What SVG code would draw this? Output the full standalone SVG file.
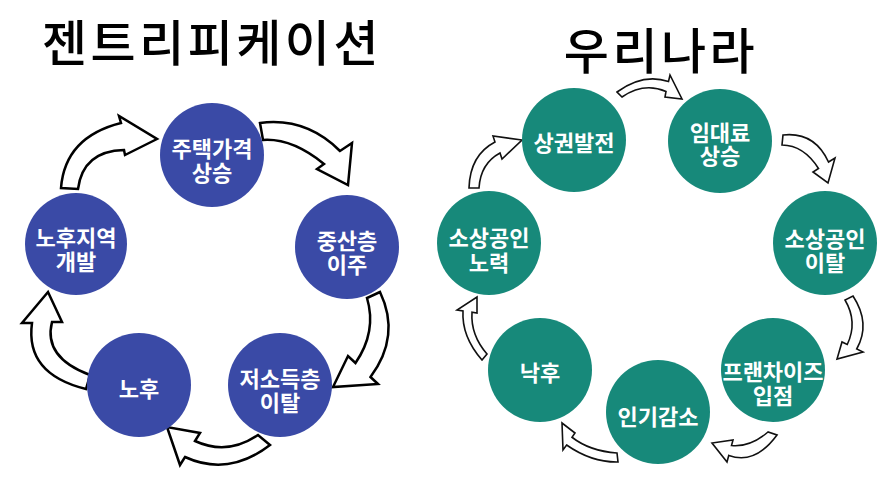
<svg xmlns="http://www.w3.org/2000/svg" width="885" height="498" viewBox="0 0 885 498">
<style>
.title{font-family:"Noto Sans CJK KR","Noto Sans",sans-serif;font-size:49px;font-weight:500;letter-spacing:3.5px;fill:#000;text-anchor:middle}
.lbl{font-family:"Noto Sans CJK KR","Noto Sans",sans-serif;font-size:22px;font-weight:bold;fill:#fff;text-anchor:middle}
.blue{fill:#3a4aa6}
.green{fill:#17897a}
.arrL{fill:#fff;stroke:#000;stroke-width:2.5;stroke-linejoin:miter}
.arrR{fill:#fff;stroke:#111;stroke-width:1.6;stroke-linejoin:miter}
</style>
<rect width="885" height="498" fill="#fff"/>
<text class="title" x="212" y="61">젠트리피케이션</text>
<text class="title" x="661" y="69">우리나라</text>

<g id="connectors">
<path class="arrL" d="M61,188 Q65,137 121,123 L119,116 L157,139 L125,155 L124,150 Q83,151 78,189 Z"/>
<path class="arrL" d="M260,123 Q306,117 340,151 L352,143 L348,185 L317,169 L324,164 Q292,138 263,140 Z"/>
<path class="arrL" d="M380,292 Q401,336 370.5,377 L378,384 L333,387 L348,356 L355.5,363 Q377,331.5 367,298 Z"/>
<path class="arrL" d="M270,445 Q228.5,477 185,457 L180,465 L167,427 L200,433 L195,441 Q227.5,456 258,435 Z"/>
<path class="arrL" d="M86,389 Q25,374 32,323 L22,323 L48,292 L62,322 L52,322 Q43,357.5 90,375 Z"/>
<path class="arrR" d="M469,188 Q470,155 495,142 L493,136 L522,140 L502,159 L500,153 Q480.5,163.5 479,188 Z"/>
<path class="arrR" d="M617,92 Q643,73 668.5,81.5 L670,75 L682,99 L665,97 L666,91.5 Q644,82 622,97 Z"/>
<path class="arrR" d="M783,135 Q814.5,131.5 828.5,162 L835,158 L828,183 L813,172 L818.5,168.5 Q803.75,145.25 782,145 Z"/>
<path class="arrR" d="M853,296 Q871,323.5 856.7,349 L863,352 L837,359 L842,342 L847.25,344.5 Q858,322 845,300 Z"/>
<path class="arrR" d="M777,435 Q755,465 728.8,455.4 L727,462 L712,443 L733,440 L731.5,445.5 Q750.25,447.25 768,432 Z"/>
<path class="arrR" d="M618,462 Q591.7,462.5 566.6,445 L563,450 L562,423 L575,433 L572,437.25 Q589.5,451 617,453 Z"/>
<path class="arrR" d="M482,360 Q461.5,336.5 463,311 L457,310 L477,297 L477,313 L472,312.25 Q470.5,335 487,354 Z"/>
</g>

<g id="node-house-price">
<circle class="blue" cx="212" cy="155" r="52"/>
<text class="lbl" x="212" y="157">주택가격</text>
<text class="lbl" x="212" y="181">상승</text>
</g>
<g id="node-middle-class">
<circle class="blue" cx="347" cy="247" r="52"/>
<text class="lbl" x="347" y="249">중산층</text>
<text class="lbl" x="347" y="273">이주</text>
</g>
<g id="node-low-income">
<circle class="blue" cx="280" cy="385" r="52"/>
<text class="lbl" x="280" y="387">저소득층</text>
<text class="lbl" x="280" y="411">이탈</text>
</g>
<g id="node-decline">
<circle class="blue" cx="139" cy="385" r="52"/>
<text class="lbl" x="139" y="397">노후</text>
</g>
<g id="node-redevelop">
<circle class="blue" cx="76" cy="244" r="51"/>
<text class="lbl" x="76" y="246">노후지역</text>
<text class="lbl" x="76" y="270">개발</text>
</g>

<g id="node-commerce">
<circle class="green" cx="574" cy="140" r="52"/>
<text class="lbl" x="574" y="151">상권발전</text>
</g>
<g id="node-rent">
<circle class="green" cx="720" cy="141" r="52"/>
<text class="lbl" x="720" y="141">임대료</text>
<text class="lbl" x="720" y="164">상승</text>
</g>
<g id="node-merchant-leave">
<circle class="green" cx="825" cy="243" r="52"/>
<text class="lbl" x="825" y="247">소상공인</text>
<text class="lbl" x="825" y="271">이탈</text>
</g>
<g id="node-franchise">
<circle class="green" cx="773" cy="370" r="52"/>
<text class="lbl" x="773" y="380">프랜차이즈</text>
<text class="lbl" x="773" y="404">입점</text>
</g>
<g id="node-popularity">
<circle class="green" cx="658" cy="412" r="52"/>
<text class="lbl" x="658" y="425">인기감소</text>
</g>
<g id="node-backward">
<circle class="green" cx="540" cy="370" r="52"/>
<text class="lbl" x="540" y="381">낙후</text>
</g>
<g id="node-merchant-effort">
<circle class="green" cx="489" cy="243" r="52"/>
<text class="lbl" x="489" y="246">소상공인</text>
<text class="lbl" x="489" y="271">노력</text>
</g>
</svg>
